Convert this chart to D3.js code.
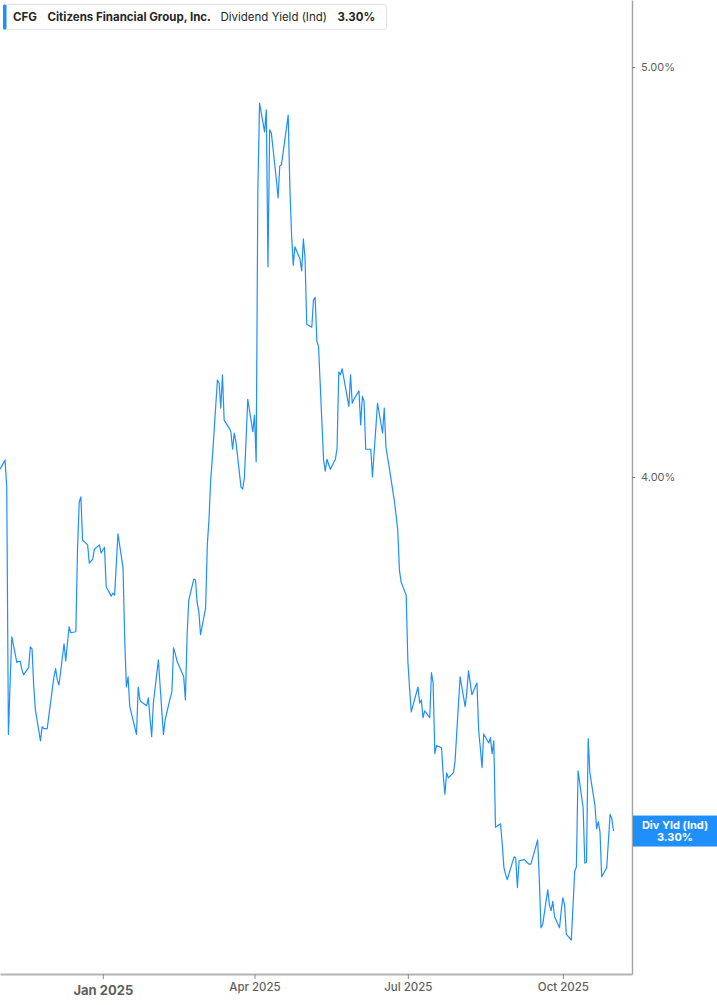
<!DOCTYPE html>
<meta charset="utf-8">

<!-- Load d3.js -->
<script src="https://d3js.org/d3.v7.min.js"></script>

<style>
  body {
    margin: 0;
    background: #ffffff;
    font-family: 'Inter', 'Noto Sans', sans-serif;
  }
</style>

<!-- Create a div where the graph will take place -->
<div id="my_dataviz"></div>

<script>
// trading days shown on the chart (one row per month)
var dates = [
  "2024-11-01","2024-11-04","2024-11-05","2024-11-06","2024-11-07","2024-11-08","2024-11-11","2024-11-12","2024-11-13","2024-11-14","2024-11-15","2024-11-18","2024-11-19","2024-11-20","2024-11-21","2024-11-22","2024-11-25","2024-11-26","2024-11-27","2024-11-29",
  "2024-12-02","2024-12-03","2024-12-04","2024-12-05","2024-12-06","2024-12-09","2024-12-10","2024-12-11","2024-12-12","2024-12-13","2024-12-16","2024-12-17","2024-12-18","2024-12-19","2024-12-20","2024-12-23","2024-12-24","2024-12-26","2024-12-27","2024-12-30","2024-12-31",
  "2025-01-02","2025-01-03","2025-01-06","2025-01-07","2025-01-08","2025-01-10","2025-01-13","2025-01-14","2025-01-15","2025-01-16","2025-01-17","2025-01-21","2025-01-22","2025-01-23","2025-01-24","2025-01-27","2025-01-28","2025-01-29","2025-01-30","2025-01-31",
  "2025-02-03","2025-02-04","2025-02-05","2025-02-06","2025-02-07","2025-02-10","2025-02-11","2025-02-12","2025-02-13","2025-02-14","2025-02-18","2025-02-19","2025-02-20","2025-02-21","2025-02-24","2025-02-25","2025-02-26","2025-02-27","2025-02-28",
  "2025-03-03","2025-03-04","2025-03-05","2025-03-06","2025-03-07","2025-03-10","2025-03-11","2025-03-12","2025-03-13","2025-03-14","2025-03-17","2025-03-18","2025-03-19","2025-03-20","2025-03-21","2025-03-24","2025-03-25","2025-03-26","2025-03-27","2025-03-28","2025-03-31",
  "2025-04-01","2025-04-02","2025-04-03","2025-04-04","2025-04-07","2025-04-08","2025-04-09","2025-04-10","2025-04-11","2025-04-14","2025-04-15","2025-04-16","2025-04-17","2025-04-21","2025-04-22","2025-04-23","2025-04-24","2025-04-25","2025-04-28","2025-04-29","2025-04-30",
  "2025-05-01","2025-05-02","2025-05-05","2025-05-06","2025-05-07","2025-05-08","2025-05-09","2025-05-12","2025-05-13","2025-05-14","2025-05-15","2025-05-16","2025-05-19","2025-05-20","2025-05-21","2025-05-22","2025-05-23","2025-05-27","2025-05-28","2025-05-29","2025-05-30",
  "2025-06-02","2025-06-03","2025-06-04","2025-06-05","2025-06-06","2025-06-09","2025-06-10","2025-06-11","2025-06-12","2025-06-13","2025-06-16","2025-06-17","2025-06-18","2025-06-20","2025-06-23","2025-06-24","2025-06-25","2025-06-26","2025-06-27","2025-06-30",
  "2025-07-01","2025-07-02","2025-07-03","2025-07-07","2025-07-08","2025-07-09","2025-07-10","2025-07-11","2025-07-14","2025-07-15","2025-07-16","2025-07-17","2025-07-18","2025-07-21","2025-07-22","2025-07-23","2025-07-24","2025-07-25","2025-07-28","2025-07-29","2025-07-30","2025-07-31",
  "2025-08-01","2025-08-04","2025-08-05","2025-08-06","2025-08-07","2025-08-08","2025-08-11","2025-08-12","2025-08-13","2025-08-14","2025-08-15","2025-08-18","2025-08-19","2025-08-20","2025-08-21","2025-08-22","2025-08-25","2025-08-26","2025-08-27","2025-08-28","2025-08-29",
  "2025-09-02","2025-09-03","2025-09-04","2025-09-05","2025-09-08","2025-09-09","2025-09-10","2025-09-11","2025-09-12","2025-09-15","2025-09-16","2025-09-17","2025-09-18","2025-09-19","2025-09-22","2025-09-23","2025-09-24","2025-09-25","2025-09-26","2025-09-29","2025-09-30",
  "2025-10-01","2025-10-02","2025-10-03","2025-10-06","2025-10-07","2025-10-08","2025-10-09","2025-10-10","2025-10-13","2025-10-14","2025-10-15","2025-10-16","2025-10-17","2025-10-20","2025-10-21","2025-10-22","2025-10-23","2025-10-24","2025-10-27","2025-10-28","2025-10-29","2025-10-30","2025-10-31"
];

// dividend yield (ind), in percent, same order as dates
var yields = [
  4.017,4.037,3.978,3.477,3.576,3.667,3.616,3.618,3.618,3.602,3.592,3.606,3.647,3.643,3.570,3.524,3.465,3.492,3.488,3.488,
  3.563,3.588,3.604,3.582,3.572,3.653,3.619,3.653,3.687,3.675,3.677,3.846,3.946,3.957,3.865,3.855,3.817,3.825,3.846,3.855,3.838,
  3.850,3.768,3.749,3.755,3.751,3.878,3.807,3.661,3.568,3.588,3.530,3.477,3.568,3.543,3.539,3.532,3.547,3.509,3.473,3.537,
  3.621,3.570,3.522,3.477,3.505,3.547,3.559,3.645,3.633,3.619,3.588,3.543,3.669,3.741,3.784,3.782,3.735,3.717,3.671,
  3.725,3.855,3.908,3.993,4.042,4.217,4.210,4.153,4.229,4.126,4.108,4.100,4.061,4.097,4.077,3.978,3.974,3.998,4.081,4.173,4.100,
  4.137,4.033,4.677,4.903,4.827,4.885,4.485,4.832,4.824,4.702,4.656,4.738,4.741,4.871,4.682,4.564,4.489,4.534,4.504,4.475,4.554,
  4.506,4.347,4.340,4.404,4.411,4.307,4.295,4.037,4.013,4.039,4.028,4.017,4.039,4.063,4.235,4.229,4.243,4.157,4.229,4.164,4.173,
  4.192,4.115,4.180,4.169,4.061,4.061,4.000,4.055,4.108,4.164,4.097,4.153,4.066,4.020,3.948,3.918,3.886,3.803,3.778,3.751,
  3.619,3.567,3.520,3.568,3.537,3.543,3.509,3.522,3.509,3.596,3.576,3.441,3.456,3.452,3.400,3.366,3.405,3.396,3.405,3.426,3.480,3.533,
  3.588,3.530,3.559,3.600,3.576,3.553,3.576,3.486,3.452,3.415,3.478,3.461,3.471,3.441,3.465,3.306,3.312,3.276,3.234,3.222,3.213,
  3.253,3.251,3.199,3.246,3.248,3.246,3.242,3.240,3.240,3.272,3.283,3.213,3.130,3.135,3.195,3.169,3.159,3.175,3.149,3.130,3.159,
  3.181,3.169,3.119,3.109,3.168,3.227,3.235,3.409,3.341,3.242,3.244,3.469,3.405,3.346,3.303,3.316,3.298,3.218,3.234,3.281,3.329,3.322,3.299
];

// axis ticks and visible range
var xTicks = ["2025-01-01", "2025-04-01", "2025-07-01", "2025-10-01"];
var yTicks = [4, 5];
var xRange = ["2024-11-01", "2025-11-11"];
var yRange = [3.052, 5.186];

// legend texts
var ticker = "CFG";
var company = "Citizens Financial Group, Inc.";
var seriesName = "Dividend Yield (Ind)";
var shortName = "Div Yld (Ind)";

// set the dimensions of the graph
var width = 717, height = 1005, plotW = 632, plotH = 974;
var blue = "#1e8ffc";

var parse = d3.timeParse("%Y-%m-%d");
var data = dates.map(function(d, i) { return { date: parse(d), value: yields[i] }; });
var last = data[data.length - 1];
var fmt = function(v) { return v.toFixed(2) + "%"; };

// append the svg object to the body of the page
var svg = d3.select("#my_dataviz")
  .append("svg")
    .attr("width", width)
    .attr("height", height);

// scales: time on x, log yield on y
var x = d3.scaleTime()
  .domain(xRange.map(parse))
  .range([0, plotW]);
var y = d3.scaleLog()
  .domain(yRange)
  .range([plotH, 0]);

// Add X axis
var xAxis = svg.append("g")
  .attr("transform", "translate(0," + plotH + ")")
  .call(d3.axisBottom(x)
    .tickValues(xTicks.map(parse))
    .tickSize(5)
    .tickSizeOuter(0)
    .tickFormat(d3.timeFormat("%b %Y")));
xAxis.select(".domain").attr("stroke", "#b4b4b4").attr("stroke-width", 2);
xAxis.selectAll(".tick line").attr("stroke", "#8a8a8a");
xAxis.selectAll(".tick text")
  .attr("fill", "#5f5f5f")
  .attr("font-family", "Inter, sans-serif")
  .attr("dy", null)
  .attr("y", function(d) { return d.getMonth() === 0 ? 21 : 17; })
  .style("font-size", function(d) { return d.getMonth() === 0 ? "13px" : "11.5px"; })
  .style("font-weight", function(d) { return d.getMonth() === 0 ? 700 : 500; });

// Add Y axis on the right
var yAxis = svg.append("g")
  .attr("transform", "translate(" + plotW + ",0)")
  .call(d3.axisRight(y)
    .tickValues(yTicks)
    .tickSize(3)
    .tickSizeOuter(0)
    .tickPadding(6)
    .tickFormat(fmt));
yAxis.select(".domain").attr("stroke", "#a3a3a3").attr("stroke-width", 1.4);
yAxis.selectAll(".tick line").attr("stroke", "#777");
yAxis.selectAll(".tick text")
  .attr("fill", "#5f5f5f")
  .attr("font-family", "Inter, sans-serif")
  .style("font-size", "11px");

// clip the line to the plot area
svg.append("clipPath")
  .attr("id", "plotClip")
  .append("rect")
    .attr("width", plotW)
    .attr("height", plotH);

// Show the line
svg.append("path")
  .datum(data)
  .attr("clip-path", "url(#plotClip)")
  .attr("fill", "none")
  .attr("stroke", blue)
  .attr("stroke-width", 1.2)
  .attr("stroke-linejoin", "round")
  .attr("d", d3.line()
    .x(function(d) { return x(d.date); })
    .y(function(d) { return y(d.value); }));

// last value tag on the right axis
var tag = svg.append("g")
  .attr("transform", "translate(" + (plotW + 1) + "," + y(last.value) + ")");
tag.append("rect")
  .attr("x", 0)
  .attr("y", -15.5)
  .attr("width", width - plotW - 1)
  .attr("height", 31)
  .attr("fill", blue);
tag.append("text")
  .attr("x", (width - plotW - 1) / 2)
  .attr("y", -2)
  .attr("text-anchor", "middle")
  .attr("fill", "#ffffff")
  .style("font-size", "11px")
  .style("font-weight", 700)
  .text(shortName);
tag.append("text")
  .attr("x", (width - plotW - 1) / 2)
  .attr("y", 10)
  .attr("text-anchor", "middle")
  .attr("fill", "#ffffff")
  .style("font-size", "11px")
  .style("font-weight", 700)
  .text(fmt(last.value));

// legend box top left
var legend = svg.append("g");
legend.append("rect")
  .attr("x", 3.5)
  .attr("y", 4.5)
  .attr("width", 383)
  .attr("height", 25)
  .attr("rx", 3)
  .attr("fill", "#ffffff")
  .attr("stroke", "#e2e2e2");
legend.append("rect")
  .attr("x", 3)
  .attr("y", 4.5)
  .attr("width", 3.5)
  .attr("height", 25)
  .attr("rx", 1.5)
  .attr("fill", blue);

var legendItems = [
  { text: ticker, x: 13, weight: 700 },
  { text: company, x: 47.5, weight: 700 },
  { text: seriesName, x: 220.5, weight: 400 },
  { text: fmt(last.value), x: 337.5, weight: 700 }
];
legend.selectAll("text")
  .data(legendItems)
  .enter()
  .append("text")
    .attr("x", function(d) { return d.x; })
    .attr("y", 21)
    .attr("fill", "#262626")
    .style("font-size", "11.5px")
    .style("font-weight", function(d) { return d.weight; })
    .text(function(d) { return d.text; });
</script>
